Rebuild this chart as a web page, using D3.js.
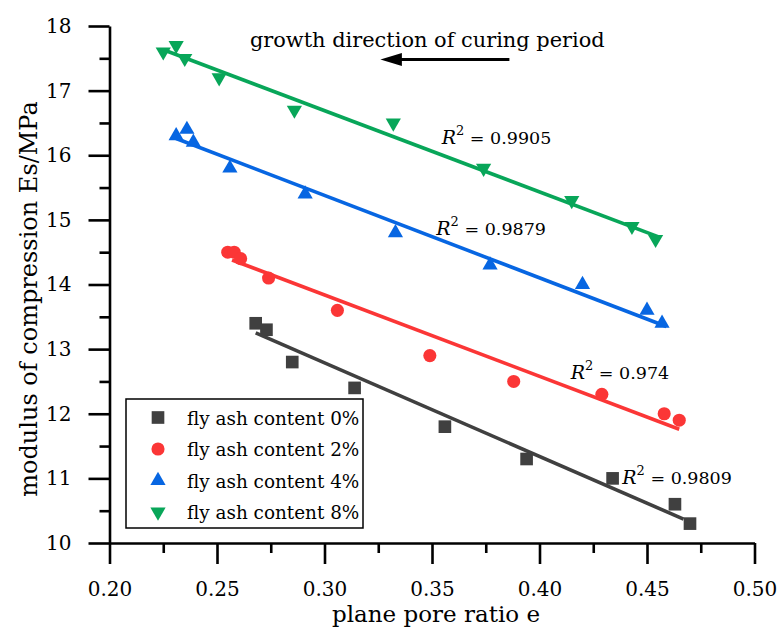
<!DOCTYPE html>
<html>
<head>
<meta charset="utf-8">
<script src="https://cdn.jsdelivr.net/npm/d3@7"></script>
<style>
  html, body { margin: 0; padding: 0; background: #fff; }
  svg text { font-family: "DejaVu Serif", "Liberation Serif", serif; fill: #000; }
</style>
</head>
<body>
<div id="chart"></div>
<script>
// ── Data ──────────────────────────────────────────────────────
const ratio0 = [0.268, 0.273, 0.285, 0.314, 0.356, 0.394, 0.434, 0.463, 0.470];
const es0    = [13.4, 13.3, 12.8, 12.4, 11.8, 11.3, 11.0, 10.6, 10.3];

const ratio2 = [0.255, 0.258, 0.261, 0.274, 0.306, 0.349, 0.388, 0.429, 0.458, 0.465];
const es2    = [14.5, 14.5, 14.4, 14.1, 13.6, 12.9, 12.5, 12.3, 12.0, 11.9];

const ratio4 = [0.231, 0.236, 0.239, 0.256, 0.291, 0.333, 0.377, 0.420, 0.450, 0.457];
const es4    = [16.3, 16.4, 16.2, 15.8, 15.4, 14.8, 14.3, 14.0, 13.6, 13.4];

const ratio8 = [0.225, 0.231, 0.235, 0.251, 0.286, 0.332, 0.374, 0.415, 0.443, 0.454];
const es8    = [17.6, 17.7, 17.5, 17.2, 16.7, 16.5, 15.8, 15.3, 14.9, 14.7];

// fitted lines: [start, end] endpoints as drawn
const fitRatio0 = [0.268, 0.467], fitEs0 = [13.25, 10.37];
const fitRatio2 = [0.257, 0.465], fitEs2 = [14.38, 11.76];
const fitRatio4 = [0.231, 0.459], fitEs4 = [16.26, 13.35];
const fitRatio8 = [0.226, 0.456], fitEs8 = [17.62, 14.73];

const r2Labels = ['0.9809', '0.974', '0.9879', '0.9905'];
const seriesNames = ['fly ash content 0%', 'fly ash content 2%', 'fly ash content 4%', 'fly ash content 8%'];

const xTicks = [0.20, 0.25, 0.30, 0.35, 0.40, 0.45, 0.50];
const yTicks = [10, 11, 12, 13, 14, 15, 16, 17, 18];

// ── Series setup ──────────────────────────────────────────────
const SERIES = [
  { name: seriesNames[0], xs: ratio0, ys: es0, fx: fitRatio0, fy: fitEs0, r2: r2Labels[0],
    color: '#404040', symbol: d3.symbolSquare, size: 160, rotate: 0, label: [0.4385, 10.92] },
  { name: seriesNames[1], xs: ratio2, ys: es2, fx: fitRatio2, fy: fitEs2, r2: r2Labels[1],
    color: '#fb3636', symbol: d3.symbolCircle, size: 135, rotate: 0, label: [0.4145, 12.54] },
  { name: seriesNames[2], xs: ratio4, ys: es4, fx: fitRatio4, fy: fitEs4, r2: r2Labels[2],
    color: '#0766e2', symbol: d3.symbolTriangle, size: 100, rotate: 0, label: [0.3520, 14.77] },
  { name: seriesNames[3], xs: ratio8, ys: es8, fx: fitRatio8, fy: fitEs8, r2: r2Labels[3],
    color: '#08a659', symbol: d3.symbolTriangle, size: 100, rotate: 180, label: [0.3545, 16.18] },
];

const width = 777, height = 628;
const margin = { top: 26, right: 22.5, bottom: 85, left: 109.5 };

const svg = d3.select('#chart').append('svg')
  .attr('width', width)
  .attr('height', height);

const x = d3.scaleLinear().domain([0.20, 0.50]).range([margin.left, width - margin.right]);
const y = d3.scaleLinear().domain([10, 18]).range([height - margin.bottom, margin.top]);

// ── Axes ──────────────────────────────────────────────────────
const minorX = d3.range(0.225, 0.5, 0.05);
const minorY = d3.range(10.5, 18, 1);

function styleAxis(ax) {
  ax.attr('font-family', null);
  ax.select('.domain').attr('stroke', '#000').attr('stroke-width', 2.6);
  ax.selectAll('.tick line').attr('stroke', '#000').attr('stroke-width', 2.6);
  ax.selectAll('.tick text').attr('font-size', 20);
}

// minor ticks
svg.append('g')
  .attr('transform', `translate(0,${y(10)})`)
  .call(d3.axisBottom(x).tickValues(minorX).tickSize(10).tickFormat(''))
  .call(ax => ax.select('.domain').remove())
  .call(styleAxis);

svg.append('g')
  .attr('transform', `translate(${x(0.20)},0)`)
  .call(d3.axisLeft(y).tickValues(minorY).tickSize(10).tickFormat(''))
  .call(ax => ax.select('.domain').remove())
  .call(styleAxis);

// major ticks
svg.append('g')
  .attr('transform', `translate(0,${y(10)})`)
  .call(d3.axisBottom(x).tickValues(xTicks).tickSize(21).tickSizeOuter(0).tickPadding(18).tickFormat(d3.format('.2f')))
  .call(styleAxis);

svg.append('g')
  .attr('transform', `translate(${x(0.20)},0)`)
  .call(d3.axisLeft(y).tickValues(yTicks).tickSize(21).tickSizeOuter(0).tickPadding(17).tickFormat(d3.format('d')))
  .call(styleAxis);

// axis titles
svg.append('text')
  .attr('x', (x(0.20) + x(0.50)) / 2 + 4)
  .attr('y', 622)
  .attr('text-anchor', 'middle')
  .attr('font-size', 23)
  .text('plane pore ratio e');

svg.append('text')
  .attr('transform', `translate(37,299) rotate(-90)`)
  .attr('text-anchor', 'middle')
  .attr('font-size', 24)
  .text('modulus of compression Es/MPa');

// ── Fit lines ─────────────────────────────────────────────────
const line = d3.line().x(d => x(d[0])).y(d => y(d[1]));

SERIES.forEach(s => {
  svg.append('path')
    .datum(d3.zip(s.fx, s.fy))
    .attr('fill', 'none')
    .attr('stroke', s.color)
    .attr('stroke-width', 3.6)
    .attr('d', line);
});

// ── Markers ───────────────────────────────────────────────────
SERIES.forEach(s => {
  const sym = d3.symbol().type(s.symbol).size(s.size);
  svg.append('g')
    .selectAll('path')
    .data(d3.zip(s.xs, s.ys))
    .join('path')
    .attr('d', sym)
    .attr('fill', s.color)
    .attr('transform', d => `translate(${x(d[0])},${y(d[1])}) rotate(${s.rotate})`);
});

// ── R² labels ─────────────────────────────────────────────────
SERIES.forEach(s => {
  const t = svg.append('text')
    .attr('x', x(s.label[0]))
    .attr('y', y(s.label[1]))
    .attr('font-size', 17.5);
  t.append('tspan').attr('font-style', 'italic').attr('font-size', 19).text('R');
  t.append('tspan').attr('dy', -9).attr('font-size', 13).text('2');
  t.append('tspan').attr('dy', 9).text(' = ' + s.r2);
});

// ── Curing period annotation ─────────────────────────────────
svg.append('text')
  .attr('x', x(0.2653))
  .attr('y', y(17.68))
  .attr('font-size', 20.9)
  .text('growth direction of curing period');

const arrowY = y(17.48);
svg.append('line')
  .attr('x1', x(0.386)).attr('x2', x(0.334))
  .attr('y1', arrowY).attr('y2', arrowY)
  .attr('stroke', '#000').attr('stroke-width', 3);
svg.append('path')
  .attr('d', `M${x(0.326)},${arrowY} L${x(0.336)},${arrowY - 6.5} L${x(0.336)},${arrowY + 6.5} Z`)
  .attr('fill', '#000');

// ── Legend ────────────────────────────────────────────────────
const legendG = svg.append('g').attr('transform', 'translate(126,399)');
legendG.append('rect')
  .attr('width', 237).attr('height', 129)
  .attr('fill', '#fff').attr('stroke', '#000').attr('stroke-width', 1.5);

SERIES.forEach((s, i) => {
  const ly = 18.5 + i * 31.5;
  legendG.append('path')
    .attr('d', d3.symbol().type(s.symbol).size(s.size)())
    .attr('fill', s.color)
    .attr('transform', `translate(32,${ly}) rotate(${s.rotate})`);
  legendG.append('text')
    .attr('x', 61).attr('y', ly + 7)
    .attr('font-size', 18.4)
    .text(s.name);
});
</script>
</body>
</html>
